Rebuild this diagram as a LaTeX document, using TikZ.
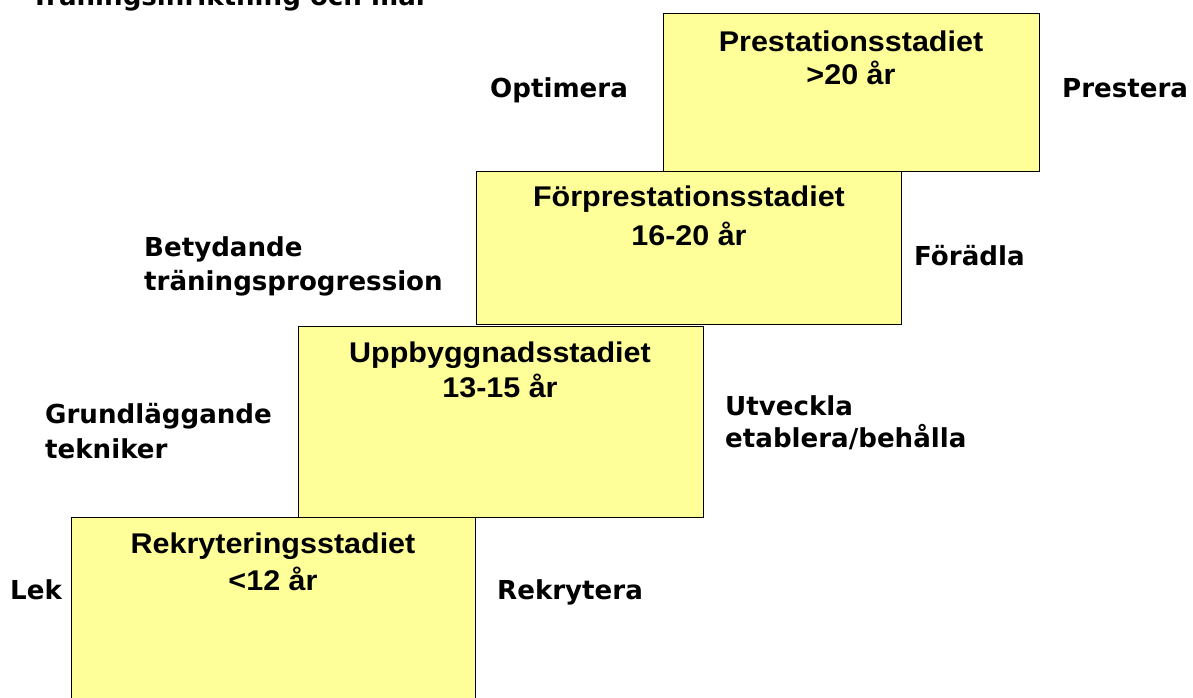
\documentclass[tikz,border=0pt]{standalone}
\usepackage{fontspec}
\newfontfamily\boxfont{Liberation Sans Bold}[FakeStretch=1.07]
\newfontfamily\labfont{DejaVu Sans Bold}
\definecolor{stageyellow}{HTML}{FFFF99}
\begin{document}
\begin{tikzpicture}[x=1pt,y=-1pt,
  stagebox/.style={draw=black, line width=1.4pt, fill=stageyellow, inner sep=0pt, anchor=north west},
  stagetext/.style={inner sep=0pt, anchor=base, font=\boxfont\fontsize{28.5}{34}\selectfont},
  sidelabel/.style={inner sep=0pt, anchor=base west, font=\labfont\fontsize{26.1}{32}\selectfont}]
\useasboundingbox (0,0) rectangle (1193,697);
\fill[white] (0,0) rectangle (1193,697);
% boxes, top stage first so lower stages lie on top
\node[stagebox, minimum width=376pt, minimum height=158pt] (b4) at (663,13) {};
\node[stagebox, minimum width=425pt, minimum height=153pt] (b3) at (476,171) {};
\node[stagebox, minimum width=405pt, minimum height=191pt] (b2) at (298,326) {};
\node[stagebox, minimum width=404pt, minimum height=210pt] (b1) at (71,517) {};
% stage texts
\node[stagetext] (t4a) at (851,51) {Prestationsstadiet};
\node[stagetext] (t4b) at (851,84) {>20 år};
\node[stagetext] (t3a) at (689,206) {Förprestationsstadiet};
\node[stagetext] (t3b) at (689,245) {16-20 år};
\node[stagetext] (t2a) at (500,362) {Uppbyggnadsstadiet};
\node[stagetext] (t2b) at (500,397) {13-15 år};
\node[stagetext] (t1a) at (273,553) {Rekryteringsstadiet};
\node[stagetext] (t1b) at (273,590) {<12 år};
% side labels
\node[sidelabel] (title) at (31,5) {Träningsinriktning och mål};
\node[sidelabel] (opt) at (490,97) {Optimera};
\node[sidelabel] (pres) at (1062,97) {Prestera};
\node[sidelabel] (bet1) at (144,256) {Betydande};
\node[sidelabel] (bet2) at (144,290) {träningsprogression};
\node[sidelabel] (for) at (914,265) {Förädla};
\node[sidelabel] (gru1) at (45,423) {Grundläggande};
\node[sidelabel] (gru2) at (45,458) {tekniker};
\node[sidelabel] (utv1) at (725,415) {Utveckla};
\node[sidelabel] (utv2) at (725,447) {etablera/behålla};
\node[sidelabel] (lek) at (10,599) {Lek};
\node[sidelabel] (rek) at (497,599) {Rekrytera};
\end{tikzpicture}
\end{document}
